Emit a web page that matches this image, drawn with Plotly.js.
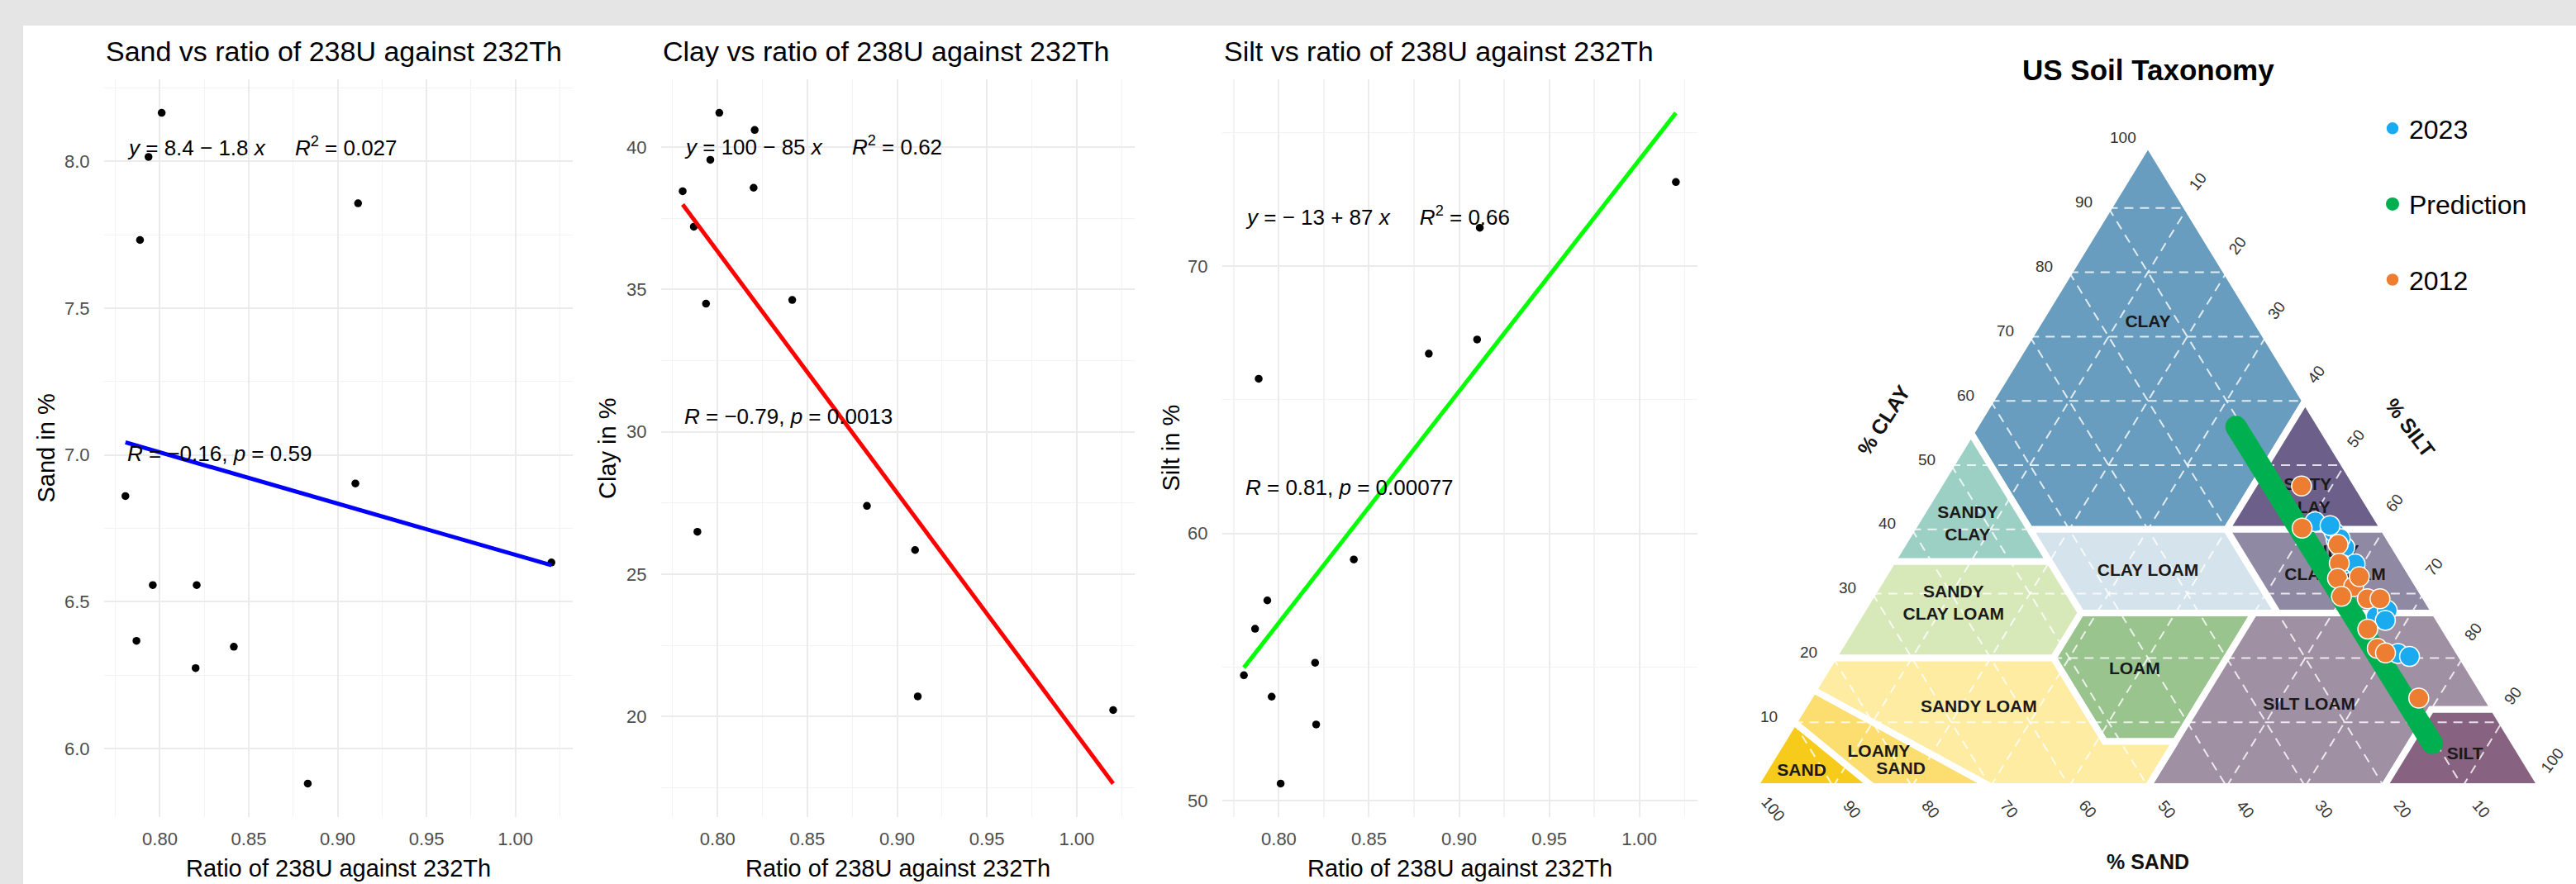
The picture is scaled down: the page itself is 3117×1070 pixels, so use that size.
<!DOCTYPE html>
<html>
<head>
<meta charset="utf-8">
<script src="https://cdn.plot.ly/plotly-3.0.1.min.js"></script>
<style>
html,body{margin:0;padding:0;background:#e5e5e5;overflow:hidden;}
#chart{width:3117px;height:1070px;}
</style>
</head>
<body>
<div id="chart"></div>
<script>
// ---------------- data ----------------
const ratio   = [0.7806,0.7868,0.7888,0.7936,0.7960,0.8010,0.8201,0.8207,0.8416,0.8832,0.9100,0.9115,1.0203];
const sandPct = [6.86,6.367,7.732,8.015,6.557,8.165,6.274,6.557,6.347,5.881,6.903,7.857,6.634];
const clayPct = [38.45,37.2,26.49,34.5,39.55,41.2,38.57,40.6,34.63,27.4,25.85,20.71,20.23];
const siltPct = [54.69,56.43,65.78,57.49,53.89,50.64,55.16,52.85,59.02,66.72,67.25,71.43,73.14];

const panelTitles = ['Sand vs ratio of 238U against 232Th','Clay vs ratio of 238U against 232Th','Silt vs ratio of 238U against 232Th'];
const yTitles = ['Sand in %','Clay in %','Silt in %'];
const xTitle = 'Ratio of 238U against 232Th';
const eqLabels = ['<i>y</i> = 8.4 − 1.8 <i>x</i>','<i>y</i> = 100 − 85 <i>x</i>','<i>y</i> = − 13 + 87 <i>x</i>'];
const r2Labels = ['0.027','0.62','0.66'];
const corR = ['−0.16','−0.79','0.81'];
const corP = ['0.59','0.0013','0.00077'];

// 2012 samples on the texture triangle
const sand2012 = [7.1,10.3,7.0,8.3,9.7,8.3,10.6,6.8,7.5,5.9,9.8,10.1,9.4,8.7];
const clay2012 = [46.75,40.2,37.65,34.75,32.4,31.1,29.6,32.65,29.2,29.2,24.5,21.5,20.8,13.75];
const silt2012 = [46.15,49.5,55.35,56.95,57.9,60.6,59.8,60.55,63.3,64.9,65.7,68.4,69.8,77.55];
// prediction line (ends)
const predSand = [10.8,10.5];
const predClay = [56.0,6.7];
const predSilt = [33.2,82.8];

const ternTicks = [10,20,30,40,50,60,70,80,90,100];
const gridVals = [10,20,30,40,50,60,70,80,90];

// USDA classes: vertices as [sand, silt, clay]
const regionNames = ['CLAY','SILTY CLAY','SANDY CLAY','CLAY LOAM','SILTY CLAY LOAM','SANDY CLAY LOAM','LOAM','SILT LOAM','SILT','SANDY LOAM','LOAMY SAND','SAND'];
const regionVerts = [
  [[0,0,100],[0,40,60],[20,40,40],[45,15,40],[45,0,55]],
  [[0,40,60],[0,60,40],[20,40,40]],
  [[45,0,55],[45,15,40],[45,20,35],[65,0,35]],
  [[20,40,40],[45,15,40],[45,28,27],[20,53,27]],
  [[0,60,40],[0,73,27],[20,53,27],[20,40,40]],
  [[45,20,35],[65,0,35],[80,0,20],[52,28,20],[45,28,27]],
  [[45,28,27],[52,28,20],[52,41,7],[43,50,7],[23,50,27]],
  [[23,50,27],[0,73,27],[0,88,12],[8,80,12],[20,80,0],[50,50,0],[43,50,7]],
  [[0,88,12],[0,100,0],[20,80,0],[8,80,12]],
  [[80,0,20],[85,0,15],[70,30,0],[50,50,0],[43,50,7],[52,41,7],[52,28,20]],
  [[85,0,15],[90,0,10],[85,15,0],[70,30,0]],
  [[90,0,10],[100,0,0],[85,15,0]]
];
const regionColors = ['#699dbf','#6c608a','#9dd0c5','#d5e3ec','#8f89a4','#d7e8b9','#99c48d','#a090a3','#886281','#fdeca1','#fcde70','#f7cb1c'];

// ---------------- helpers ----------------
const W = 3117, H = 1070;
const PX = v => v / W;
const PY = v => 1 - v / H;
const TX = (silt, clay) => silt + clay / 2;   // ternary -> x (0..100)
const TY = clay => clay;                      // ternary -> y (0..100)

function linfit(x, y) {
  const n = x.length;
  const mx = x.reduce((a, b) => a + b, 0) / n;
  const my = y.reduce((a, b) => a + b, 0) / n;
  let sxy = 0, sxx = 0;
  for (let i = 0; i < n; i++) { sxy += (x[i] - mx) * (y[i] - my); sxx += (x[i] - mx) ** 2; }
  const b = sxy / sxx;
  return { a: my - b * mx, b: b };
}
function expand(vals) {
  const mn = Math.min(...vals), mx = Math.max(...vals), d = (mx - mn) * 0.05;
  return [mn - d, mx + d];
}

const FONT = 'Liberation Sans, Arial, sans-serif';

const traces = [];
const annotations = [];
const layout = {
  width: W, height: H,
  margin: { l: 0, r: 0, t: 0, b: 0 },
  paper_bgcolor: '#e5e5e5',
  plot_bgcolor: '#ffffff',
  showlegend: true,
  shapes: [{ type: 'rect', xref: 'paper', yref: 'paper', x0: PX(28), x1: 1, y0: 0, y1: PY(31), fillcolor: '#ffffff', line: { width: 0 }, layer: 'below' }],
  annotations: annotations
};

// ---------------- the three scatter panels ----------------
const panelVals = [sandPct, clayPct, siltPct];
const lineColors = ['#0000ff', '#ff0000', '#00ff00'];
const plotX = [[126, 693], [800, 1373], [1479, 2054]];
const plotTop = 96, plotBot = 989;
const yTitleX = [55, 734.5, 1416];
const eqY = [177.5, 177, 261];
const rY = [549, 504, 590];
const yDtick = [0.5, 5, 10];
const yFmt = ['.1f', 'd', 'd'];

const xMin = Math.min(...ratio), xMax = Math.max(...ratio);

panelVals.forEach((vals, i) => {
  const s = i === 0 ? '' : String(i + 1);
  const fit = linfit(ratio, vals);
  const ly = [fit.a + fit.b * xMin, fit.a + fit.b * xMax];
  traces.push({
    type: 'scatter', mode: 'markers', x: ratio, y: vals, xaxis: 'x' + s, yaxis: 'y' + s,
    marker: { size: 9.5, color: '#000000' }, showlegend: false, hoverinfo: 'skip'
  });
  traces.push({
    type: 'scatter', mode: 'lines', x: [xMin, xMax], y: ly, xaxis: 'x' + s, yaxis: 'y' + s,
    line: { color: lineColors[i], width: 5 }, showlegend: false, hoverinfo: 'skip'
  });
  const common = {
    showline: false, zeroline: false, showgrid: true, gridcolor: '#ebebeb', gridwidth: 2,
    ticks: 'outside', tickcolor: 'rgba(0,0,0,0)',
    tickfont: { family: FONT, size: 22, color: '#4d4d4d' }, fixedrange: true
  };
  layout['xaxis' + s] = Object.assign({}, common, {
    domain: [PX(plotX[i][0]), PX(plotX[i][1])], range: expand(ratio), anchor: 'y' + s,
    dtick: 0.05, tick0: 0, tickformat: '.2f', ticklen: 7,
    minor: { dtick: 0.025, showgrid: true, gridcolor: '#f3f3f3', gridwidth: 1.2, ticks: '' }
  });
  layout['yaxis' + s] = Object.assign({}, common, {
    domain: [PY(plotBot), PY(plotTop)], range: expand(vals.concat(ly)), anchor: 'x' + s,
    dtick: yDtick[i], tick0: 0, tickformat: yFmt[i], ticklen: 12,
    minor: { dtick: yDtick[i] / 2, showgrid: true, gridcolor: '#f3f3f3', gridwidth: 1.2, ticks: '' }
  });
  annotations.push({ xref: 'paper', yref: 'paper', x: PX(plotX[i][0]), y: PY(62), xanchor: 'left', yanchor: 'middle',
    text: panelTitles[i], showarrow: false, font: { family: FONT, size: 34, color: '#000' } });
  annotations.push({ xref: 'paper', yref: 'paper', x: PX((plotX[i][0] + plotX[i][1]) / 2), y: PY(1051), xanchor: 'center', yanchor: 'middle',
    text: xTitle, showarrow: false, font: { family: FONT, size: 29, color: '#000' } });
  annotations.push({ xref: 'paper', yref: 'paper', x: PX(yTitleX[i]), y: PY((plotTop + plotBot) / 2), xanchor: 'center', yanchor: 'middle',
    text: yTitles[i], textangle: -90, showarrow: false, font: { family: FONT, size: 29, color: '#000' } });
  annotations.push({ xref: 'x' + s, yref: 'paper', x: xMin, y: PY(eqY[i]), xanchor: 'left', yanchor: 'middle',
    text: eqLabels[i] + '\u00a0\u00a0\u00a0\u00a0 <i>R</i><sup>2</sup> = ' + r2Labels[i], showarrow: false,
    font: { family: FONT, size: 26, color: '#000' } });
  annotations.push({ xref: 'x' + s, yref: 'paper', x: xMin, y: PY(rY[i]), xanchor: 'left', yanchor: 'middle',
    text: '<i>R</i> = ' + corR[i] + ', <i>p</i> = ' + corP[i], showarrow: false,
    font: { family: FONT, size: 26, color: '#000' } });
});

// ---------------- texture triangle ----------------
layout.xaxis4 = { domain: [PX(2123), PX(3075)], range: [0, 100], visible: false, anchor: 'y4', fixedrange: true };
layout.yaxis4 = { domain: [PY(952), PY(174)], range: [0, 100], visible: false, anchor: 'x4', fixedrange: true };

regionVerts.forEach((verts, k) => {
  const xs = verts.map(v => TX(v[1], v[2]));
  const ys = verts.map(v => TY(v[2]));
  xs.push(xs[0]); ys.push(ys[0]);
  traces.push({
    type: 'scatter', mode: 'lines', x: xs, y: ys, xaxis: 'x4', yaxis: 'y4', fill: 'toself',
    fillcolor: regionColors[k], line: { color: '#ffffff', width: 8 }, showlegend: false, hoverinfo: 'skip'
  });
});

// dashed grid lines
const gx = [], gy = [];
gridVals.forEach(v => {
  gx.push(TX(0, v), TX(100 - v, v), null); gy.push(TY(v), TY(v), null);                 // constant clay
  gx.push(TX(0, 100 - v), TX(100 - v, 0), null); gy.push(TY(100 - v), TY(0), null);     // constant sand
  gx.push(TX(v, 0), TX(v, 100 - v), null); gy.push(TY(0), TY(100 - v), null);           // constant silt
});
traces.push({
  type: 'scatter', mode: 'lines', x: gx, y: gy, xaxis: 'x4', yaxis: 'y4',
  line: { color: 'rgba(255,255,255,0.8)', width: 2, dash: '11px,8px' }, showlegend: false, hoverinfo: 'skip'
});

// region labels (under the points)
const labelText = ['CLAY', 'SILTY<br>CLAY', 'SANDY<br>CLAY', 'CLAY LOAM', 'SILTY<br>CLAY LOAM', 'SANDY<br>CLAY LOAM', 'LOAM', 'SILT LOAM', 'SILT', 'SANDY LOAM', 'LOAMY', 'SAND', 'SAND'];
const labelX = [50, 70.3, 27.1, 50, 73.8, 25.3, 48.3, 70.5, 90.3, 28.5, 15.8, 18.6, 6.0];
const labelY = [72.1, 45.0, 40.7, 33.4, 34.6, 28.4, 18.2, 12.6, 4.9, 12.2, 5.3, 2.6, 2.4];
traces.push({
  type: 'scatter', mode: 'text', x: labelX, y: labelY, xaxis: 'x4', yaxis: 'y4',
  text: labelText.map(t => '<b>' + t + '</b>'), textposition: 'middle center', cliponaxis: false,
  textfont: { family: FONT, size: 21, color: '#1a1a1a' }, showlegend: false, hoverinfo: 'skip'
});

// prediction line
traces.push({
  type: 'scatter', mode: 'lines+markers', x: predSilt.map((s, i) => TX(s, predClay[i])), y: predClay.map(TY),
  xaxis: 'x4', yaxis: 'y4', line: { color: '#00b050', width: 26 }, marker: { size: 26, color: '#00b050' },
  showlegend: false, hoverinfo: 'skip', cliponaxis: false
});
// 2023 samples (same samples as the panels)
traces.push({
  type: 'scatter', mode: 'markers', name: '2023', legendgroup: 'a',
  x: siltPct.map((s, i) => TX(s, clayPct[i])), y: clayPct.map(TY), xaxis: 'x4', yaxis: 'y4',
  marker: { size: 24, color: '#1aaaf0', line: { color: '#ffffff', width: 1.5 } }, hoverinfo: 'skip', cliponaxis: false
});
// legend entry for the prediction
traces.push({
  type: 'scatter', mode: 'markers', name: 'Prediction', legendgroup: 'b',
  x: [null], y: [null], xaxis: 'x4', yaxis: 'y4', marker: { size: 24, color: '#00b050' }, hoverinfo: 'skip'
});
// 2012 samples
traces.push({
  type: 'scatter', mode: 'markers', name: '2012', legendgroup: 'c',
  x: silt2012.map((s, i) => TX(s, clay2012[i])), y: clay2012.map(TY), xaxis: 'x4', yaxis: 'y4',
  marker: { size: 24, color: '#ed7d31', line: { color: '#ffffff', width: 1.5 } }, hoverinfo: 'skip', cliponaxis: false
});

layout.legend = {
  x: PX(2875), xanchor: 'left', y: PY(128), yanchor: 'top', xref: 'paper', yref: 'paper',
  bgcolor: 'rgba(0,0,0,0)', traceorder: 'grouped', tracegroupgap: 47, itemsizing: 'trace',
  font: { family: FONT, size: 32, color: '#000' }
};

// tick labels on the triangle
const tickFont = { family: FONT, size: 19, color: '#333333' };
ternTicks.forEach(v => {
  annotations.push({ xref: 'x4', yref: 'y4', x: TX(0, v), y: TY(v), text: String(v), showarrow: false,
    xanchor: 'center', yanchor: 'middle', xshift: -30, yshift: 7, font: tickFont });
  annotations.push({ xref: 'x4', yref: 'y4', x: TX(v, 100 - v), y: TY(100 - v), text: String(v), showarrow: false,
    xanchor: 'center', yanchor: 'middle', xshift: 13, yshift: 32, textangle: -52, font: tickFont });
  annotations.push({ xref: 'x4', yref: 'y4', x: TX(100 - v, 0), y: TY(0), text: String(v), showarrow: false,
    xanchor: 'center', yanchor: 'middle', xshift: 23, yshift: -27, textangle: 50, font: tickFont });
});
// triangle axis titles
const axFont = { family: FONT, size: 25, color: '#111', weight: 700 };
annotations.push({ xref: 'paper', yref: 'paper', x: PX(2279), y: PY(509), xanchor: 'center', yanchor: 'middle',
  text: '% CLAY', textangle: -57, showarrow: false, font: axFont });
annotations.push({ xref: 'paper', yref: 'paper', x: PX(2916), y: PY(517), xanchor: 'center', yanchor: 'middle',
  text: '% SILT', textangle: 53, showarrow: false, font: axFont });
annotations.push({ xref: 'paper', yref: 'paper', x: PX(2599), y: PY(1043), xanchor: 'center', yanchor: 'middle',
  text: '% SAND', showarrow: false, font: axFont });
annotations.push({ xref: 'paper', yref: 'paper', x: PX(2599), y: PY(84), xanchor: 'center', yanchor: 'middle',
  text: 'US Soil Taxonomy', showarrow: false, font: { family: FONT, size: 35, color: '#000', weight: 700 } });

Plotly.newPlot('chart', traces, layout, { displayModeBar: false, staticPlot: true });
</script>
</body>
</html>
